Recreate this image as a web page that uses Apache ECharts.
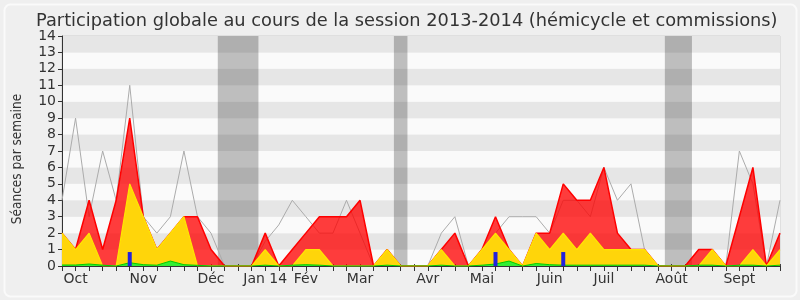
<!DOCTYPE html>
<html>
<head>
<meta charset="utf-8">
<script src="https://cdn.jsdelivr.net/npm/echarts@6/dist/echarts.min.js"></script>
<style>html,body{margin:0;padding:0;background:#efefef;}#c{width:800px;height:300px;}</style>
</head>
<body>
<div id="c"></div>
<script>
// Weekly values, session 2013-2014 (54 weeks, index 0 = first week of October)
const weeks = Array.from({length: 54}, (_, i) => i);
const seancesTotal = [2,1,4,1,4,9,3,1,2,3,3,1,0,0,0,2,0,1,2,3,3,3,4,0,1,0,0,0,1,2,0,1,3,1,0,2,2,5,4,4,6,2,1,1,0,0,0,1,1,0,3,6,0,2];
const seancesHemicycle = [2,1,2,0,0,5,3,1,2,3,0,0,0,0,0,1,0,0,1,1,0,0,0,0,1,0,0,0,1,0,0,1,2,1,0,2,1,2,1,2,1,1,1,1,0,0,0,0,1,0,0,1,0,1];
const mediane = [4,9,3,7,4,11,3,2,3,7,3,2,0,0,0,1.5,2.5,4,3,2,2,4,2,0,1,0,0,0,2,3,0,1,2,3,3,3,2,4,4,3,6,4,5,1,0,0,0,1,1,0,7,5,0,4];
const interventions = [0.06,0.06,0.12,0.05,0,0.2,0.08,0.05,0.3,0.08,0.04,0,0,0,0,0.05,0,0.05,0.08,0.05,0,0,0,0,0.05,0,0,0,0.05,0,0,0.05,0.12,0.3,0,0.15,0.08,0.05,0.05,0.05,0.05,0.05,0.05,0.05,0,0,0,0.05,0.05,0,0.05,0.05,0,0.05];
const questionsWeeks = [5, 32, 37];
const questionsValues = [0.85, 0.85, 0.85];
const monthIdx = [1, 6, 11, 15, 18, 22, 27, 31, 36, 40, 45, 50];
const monthNames = ['Oct','Nov','Déc','Jan 14','Fév','Mar','Avr','Mai','Juin','Juil','Août','Sept'];
const vacations = [[11.5, 14.5], [24.5, 25.5], [44.5, 46.5]];
const yTicks = [0,1,2,3,4,5,6,7,8,9,10,11,12,13,14];

const pairs = arr => arr.map((v, i) => [weeks[i], v]);
const chart = echarts.init(document.getElementById('c'), null, {renderer: 'canvas'});
chart.setOption({
  animation: false,
  backgroundColor: '#efefef',
  title: {
    text: 'Participation globale au cours de la session 2013-2014 (hémicycle et commissions)',
    left: 31, top: 7,
    textStyle: {fontFamily: 'DejaVu Sans', fontSize: 17.8, fontWeight: 'normal', color: '#333'}
  },
  graphic: [{
    type: 'rect', left: 2, top: 2, z: -10,
    shape: {width: 792, height: 292, r: 6},
    style: {fill: 'none', stroke: '#fafafa', lineWidth: 2}
  }],
  grid: {left: 62, right: 20, top: 36, bottom: 34, outerBoundsMode: 'none', containLabel: false,
    show: true, borderColor: '#cfcfcf', borderWidth: 1, backgroundColor: 'transparent'},
  xAxis: [{
    type: 'value', min: 0, max: 53, interval: 1,
    axisLine: {show: true, onZero: false, lineStyle: {color: '#333'}},
    axisTick: {show: true, length: 5, lineStyle: {color: '#333'}},
    splitLine: {show: false},
    axisLabel: {
      fontFamily: 'DejaVu Sans', fontSize: 14, color: '#333', margin: 6,
      formatter: v => { const k = monthIdx.indexOf(v); return k >= 0 ? monthNames[k] : ''; }
    }
  }, {
    type: 'value', position: 'top', min: 0, max: 53, interval: 1,
    axisLine: {show: false},
    axisTick: {show: true, length: 2, lineStyle: {color: '#444'}},
    axisLabel: {show: false}, splitLine: {show: false}
  }],
  yAxis: {
    type: 'value', min: yTicks[0], max: yTicks[yTicks.length - 1], interval: 1,
    name: 'Séances par semaine', nameLocation: 'middle', nameGap: 38, nameRotate: 90,
    nameTextStyle: {fontFamily: 'DejaVu Sans Condensed, DejaVu Sans', fontSize: 13.5, color: '#333', padding: [0, 16, 0, 0]},
    axisLine: {show: true, lineStyle: {color: '#333'}},
    axisTick: {show: true, length: 4, lineStyle: {color: '#333'}},
    axisLabel: {fontFamily: 'DejaVu Sans', fontSize: 14, color: '#333', margin: 6},
    splitLine: {show: false},
    splitArea: {show: true, areaStyle: {color: ['#fafafa', '#e6e6e6']}}
  },
  series: [{
    name: 'médiane', type: 'line', data: pairs(mediane), symbol: 'none', z: 2,
    lineStyle: {color: '#ababab', width: 1},
    markArea: {silent: true, itemStyle: {color: 'rgba(0,0,0,0.24)'},
      data: vacations.map(v => [{xAxis: v[0]}, {xAxis: v[1]}])}
  }, {
    name: 'total', type: 'line', data: pairs(seancesTotal), symbol: 'none', z: 3,
    lineStyle: {color: '#ff0000', width: 1.5},
    areaStyle: {color: 'rgba(255,0,0,0.76)', opacity: 1}
  }, {
    name: 'hémicycle', type: 'line', data: pairs(seancesHemicycle), symbol: 'none', z: 4,
    lineStyle: {color: '#ffe600', width: 1.2},
    areaStyle: {color: '#ffd50a', opacity: 1}
  }, {
    name: 'interventions', type: 'line', data: pairs(interventions), symbol: 'none', z: 5,
    lineStyle: {color: '#00cc00', width: 1},
    areaStyle: {color: '#33ee33', opacity: 1}
  }, {
    name: 'questions', type: 'bar', z: 6, barWidth: 4,
    data: questionsWeeks.map((w, i) => [w, questionsValues[i]]),
    itemStyle: {color: '#2222dd'}
  }]
});
</script>
</body>
</html>
